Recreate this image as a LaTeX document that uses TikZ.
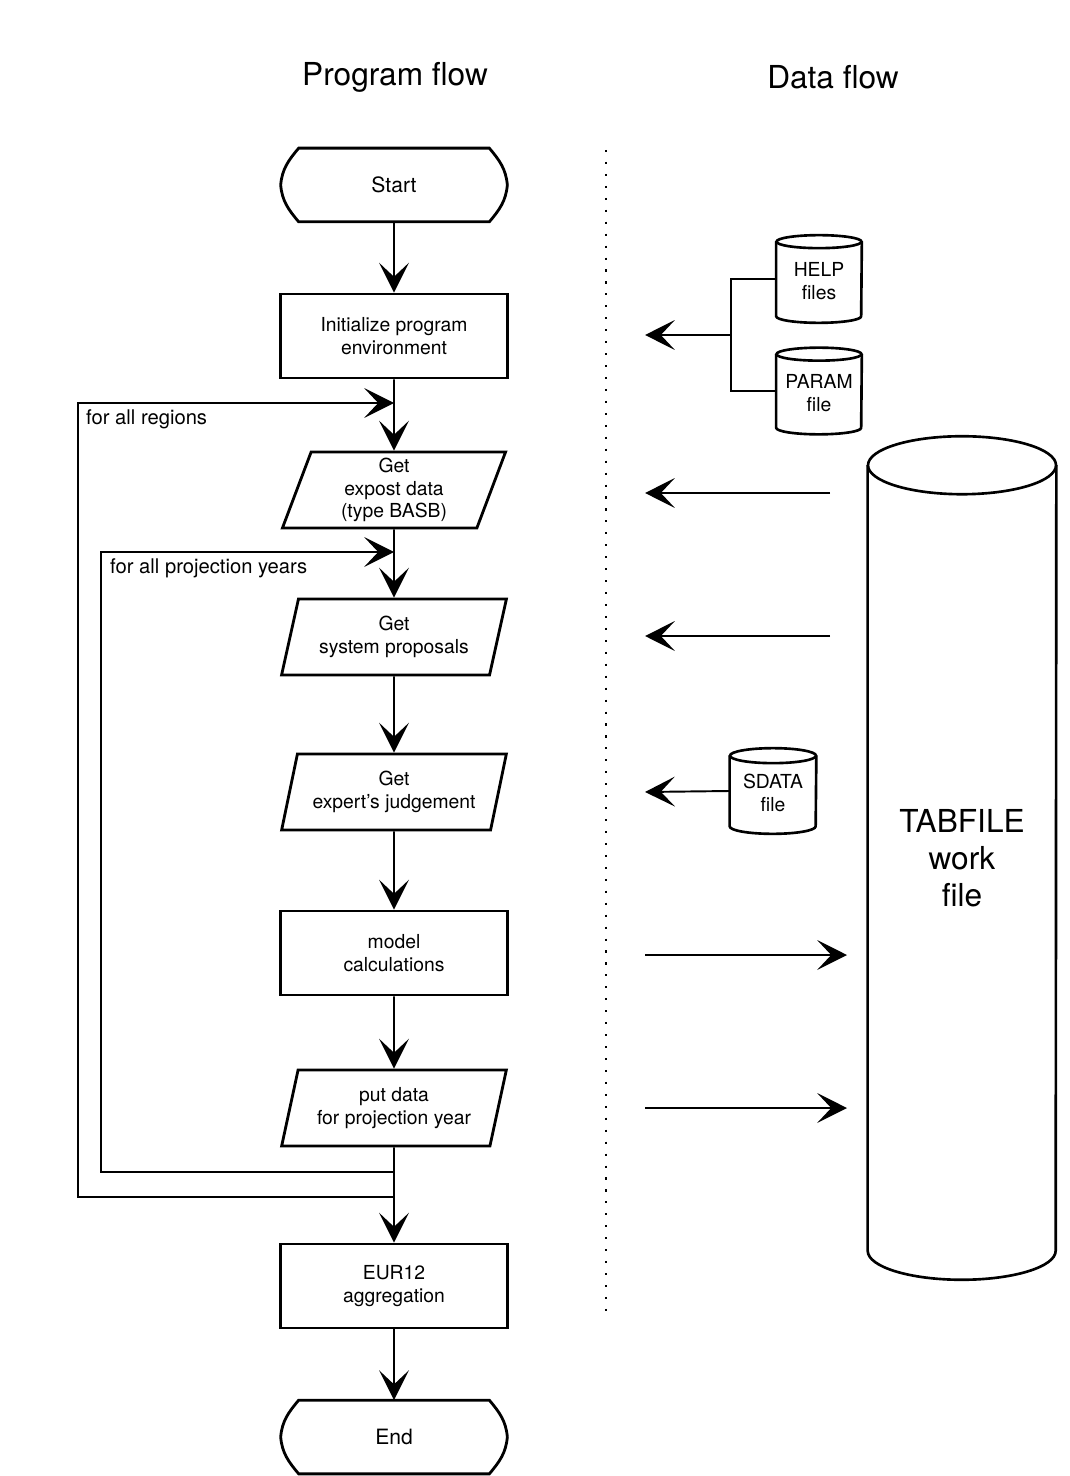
\documentclass[tikz,border=0pt]{standalone}
\usepackage{fontspec}
\setmainfont{TeX Gyre Heros}
\usetikzlibrary{arrows.meta,calc,shapes.geometric,positioning}

\tikzset{
  box/.style={draw, line width=1.6pt, minimum width=4.54cm, minimum height=1.68cm,
    align=center, font=\fontsize{11}{13}\selectfont},
  slant/.style={trapezium, trapezium left angle=75, trapezium right angle=105,
    trapezium stretches=true, draw, line width=1.6pt, minimum width=4.5cm,
    minimum height=1.52cm, align=center, font=\fontsize{11}{13}\selectfont},
  term/.style={minimum width=4.52cm, minimum height=1.46cm, font=\fontsize{12}{14}\selectfont},
  drum/.style={align=center, inner sep=0pt, font=\fontsize{11}{13}\selectfont},
  flow/.style={line width=1.1pt, -{Stealth[length=17pt,width=17pt,inset=8pt]}},
  note/.style={anchor=west, font=\fontsize{11.5}{14}\selectfont},
  head/.style={font=\fontsize{18}{22}\selectfont}
}

\begin{document}
\begin{tikzpicture}[x=0.02cm,y=0.02cm]
\useasboundingbox (0,0) rectangle (1069,-1476);

\node[head] (phead) at (395,-77) {Program flow};
\node[head] (dhead) at (833,-77) {Data flow};

% program flow
\node[term] (start) at (394,-185) {Start};
\node[box] (init) at (394,-336) {Initialize program\\environment};
\node[slant] (expost) at (394,-490) {Get\\expost data\\(type BASB)};
\node[slant] (sysprop) at (394,-637) {Get\\system proposals};
\node[slant] (judge) at (394,-792) {Get\\expert's judgement};
\node[box] (model) at (394,-953) {model\\calculations};
\node[slant] (putdata) at (394,-1108) {put data\\for projection year};
\node[box] (eur) at (394,-1286) {EUR12\\aggregation};
\node[term] (stop) at (394,-1437) {End};

\foreach \n in {start,stop}
{
\draw[line width=1.6pt] ($(\n.north west)+(18,0)$) -- ($(\n.north east)+(-18,0)$)
  to[out=-50,in=95] (\n.east) to[out=-95,in=50] ($(\n.south east)+(-18,0)$)
  -- ($(\n.south west)+(18,0)$) to[out=130,in=-85] (\n.west)
  to[out=85,in=-130] cycle;
}

\coordinate (r1) at (394,-403);
\coordinate (y1) at (394,-552);
\coordinate (y2) at (394,-1172);
\coordinate (r2) at (394,-1197);

\draw[flow] (start) -- (init);
\draw[flow] (init) -- (expost);
\draw[flow] (expost) -- (sysprop);
\draw[flow] (sysprop) -- (judge);
\draw[flow] (judge) -- (model);
\draw[flow] (model) -- (putdata);
\draw[flow] (putdata) -- (eur);
\draw[flow] (eur) -- (stop);

% loops
\draw[flow] (r2) -- (78,-1197) |- (r1);
\draw[flow] (y2) -- (101,-1172) |- (y1);
\node[note] (lreg) at (80,-419) {for all regions};
\node[note] (lyear) at (104,-568) {for all projection years};

% separator
\draw[line width=1.2pt, dash pattern=on 1.2pt off 5.6pt] (606,-150) -- (606,-1320);

% data flow
\node[drum, minimum width=1.7cm, minimum height=1.74cm] (help) at (819,-279) {\\[-3pt]HELP\\files};
\node[drum, minimum width=1.7cm, minimum height=1.72cm] (param) at (819,-391) {\\[-3pt]PARAM\\file};
\node[drum, minimum width=1.72cm, minimum height=1.7cm] (sdata) at (773,-791) {\\[-3pt]SDATA\\file};
\node[drum, minimum width=3.76cm, minimum height=16.86cm,
  font=\fontsize{18}{21}\selectfont] (tab) at (962,-858) {TABFILE\\work\\file};

\foreach \n/\w/\r in {help/42.5/6.5, param/42.5/6.5, sdata/43/7.5, tab/94/29}
{
\draw[line width=1.5pt] ($(\n.north)+(0,-\r)$) ellipse [x radius=\w, y radius=\r];
\draw[line width=1.5pt] ($(\n.north west)+(0,-\r)$) -- ($(\n.south west)+(0,\r)$)
  arc [start angle=180, end angle=360, x radius=\w, y radius=\r]
  -- ($(\n.north east)+(0,-\r)$);
}

\coordinate (hp) at (731,-335);
\coordinate (d1) at (645,-335);
\coordinate (t2) at (830,-493);
\coordinate (d2) at (645,-493);
\coordinate (t3) at (830,-636);
\coordinate (d3) at (645,-636);
\coordinate (d4) at (645,-792);
\coordinate (d5) at (645,-955);
\coordinate (t5) at (847,-955);
\coordinate (d6) at (645,-1108);
\coordinate (t6) at (847,-1108);

\draw[line width=1.1pt] (help.west) -- (731,-279) |- (param.west);
\draw[flow] (hp) -- (d1);
\draw[flow] (t2) -- (d2);
\draw[flow] (t3) -- (d3);
\draw[flow] (sdata.west) -- (d4);
\draw[flow] (d5) -- (t5);
\draw[flow] (d6) -- (t6);
\end{tikzpicture}
\end{document}
